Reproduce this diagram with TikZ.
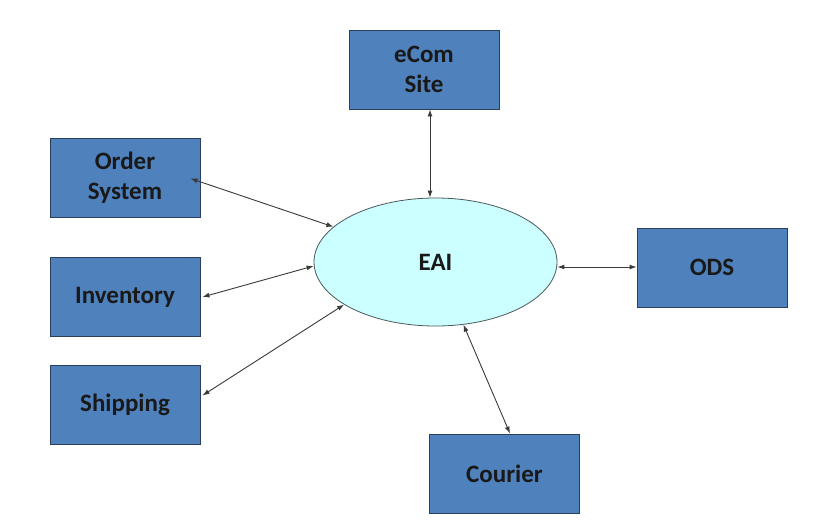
\documentclass[tikz,border=0pt]{standalone}
\usepackage{fontspec}
\setmainfont{Carlito}
\usetikzlibrary{shapes.geometric,arrows.meta}
\definecolor{boxfill}{HTML}{4F81BD}
\definecolor{boxline}{HTML}{2B3F5C}
\definecolor{eaifill}{HTML}{CCFFFF}
\definecolor{eailine}{HTML}{4A5A5A}
\definecolor{linkcol}{HTML}{3A3A3A}
\begin{document}
\begin{tikzpicture}[x=1pt,y=-1pt,
  sysbox/.style={draw=boxline,fill=boxfill,line width=0.9pt,minimum width=150pt,minimum height=79pt,inner sep=0pt,align=center,text=black!90,font=\bfseries\fontsize{25}{30}\selectfont},
  hub/.style={ellipse,draw=eailine,fill=eaifill,line width=0.8pt,minimum width=243pt,minimum height=128pt,inner sep=0pt,text=black!90,font=\bfseries\fontsize{25}{30}\selectfont},
  link/.style={draw=linkcol,line width=0.9pt,{Latex[length=7pt,width=5pt]}-{Latex[length=7pt,width=5pt]}}]
\useasboundingbox[fill=white] (0,0) rectangle (819,525);
\node[sysbox] (ecom) at (424,69.5) {eCom\\Site};
\node[sysbox] (order) at (125,177.5) {Order\\System};
\node[sysbox] (inv) at (125,297) {Inventory};
\node[sysbox] (ship) at (125,404.5) {Shipping};
\node[sysbox] (ods) at (712,267.5) {ODS};
\node[sysbox] (courier) at (504.5,473.5) {Courier};
\node[hub] (eai) at (435.5,262) {EAI};
\draw[link] ([xshift=6pt]ecom.south) -- ([xshift=-5.5pt]eai.north);
\draw[link] ([xshift=-10pt,yshift=-1pt]order.east) -- (eai.161);
\draw[link] ([xshift=2pt]inv.east) -- ([yshift=-4pt]eai.west);
\draw[link] ([xshift=2pt,yshift=9pt]ship.east) -- (eai.205);
\draw[link] ([yshift=-5pt]eai.east) -- ([yshift=0.5pt]ods.west);
\draw[link] (eai.294) -- ([xshift=5.5pt]courier.north);
\end{tikzpicture}
\end{document}
